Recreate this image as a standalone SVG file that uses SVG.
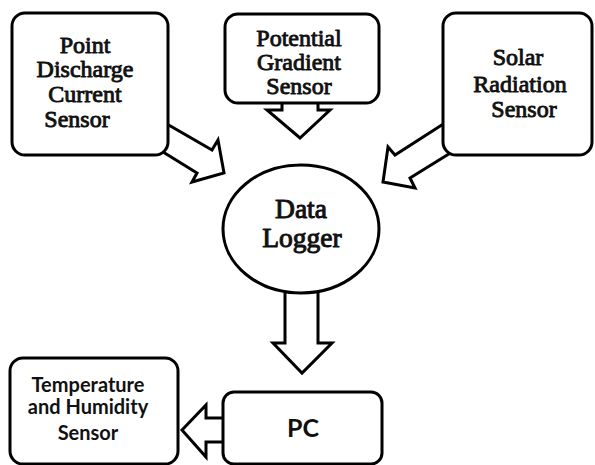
<svg xmlns="http://www.w3.org/2000/svg" width="595" height="465" viewBox="0 0 595 465">
<style>
.box{fill:#fff;stroke:#000;stroke-width:3}
.arr{fill:#fff;stroke:#000;stroke-width:3;stroke-linejoin:miter}
.tr{font-family:'Liberation Serif','Times New Roman',serif;font-size:24px;fill:#111;stroke:#111;stroke-width:0.9;stroke-linejoin:round;text-anchor:middle}
.big{font-size:27.5px;stroke-width:1}
.sans{font-family:Lato,'Liberation Sans',sans-serif;font-weight:bold;font-size:20px;fill:#111;text-anchor:middle}
</style>
<rect width="595" height="465" fill="#fff"/>
<g id="connectors">
<polygon class="arr" points="160,120 212,150 218,140 224,173 192,182 197,173 155,147"/>
<polygon class="arr" points="282,98 282,110 267,110 300,138 330,110 318,110 318,98"/>
<polygon class="arr" points="448,121 395,155 388,147 383,182 415,188 410,178 452,152"/>
<polygon class="arr" points="285,285 285,343 273,343 302,373 332,343 318,343 318,285"/>
<polygon class="arr" points="228,418 206,418 206,405 182,430 206,457 206,442 228,442"/>
</g>
<g id="point-discharge">
<rect class="box" x="12" y="13" width="156" height="142" rx="13"/>
<g class="tr">
<text x="85" y="53">Point</text>
<text x="85" y="77">Discharge</text>
<text x="85" y="102">Current</text>
<text x="77" y="127">Sensor</text>
</g>
</g>
<g id="potential-gradient">
<rect class="box" x="225" y="14" width="154" height="89" rx="13"/>
<g class="tr">
<text x="299" y="46">Potential</text>
<text x="299" y="70">Gradient</text>
<text x="299" y="94">Sensor</text>
</g>
</g>
<g id="solar-radiation">
<rect class="box" x="443" y="13" width="149" height="142" rx="13"/>
<g class="tr">
<text x="518" y="65">Solar</text>
<text x="520" y="92">Radiation</text>
<text x="524" y="117">Sensor</text>
</g>
</g>
<g id="data-logger">
<ellipse class="box" cx="301" cy="229" rx="78" ry="64"/>
<g class="tr big">
<text x="301" y="218">Data</text>
<text x="302" y="247">Logger</text>
</g>
</g>
<g id="pc">
<rect class="box" x="223" y="392" width="159" height="72" rx="11"/>
<text class="sans" x="303" y="437" style="font-size:25px">PC</text>
</g>
<g id="temp-humidity">
<rect class="box" x="10" y="358" width="168" height="106" rx="13"/>
<text class="sans" x="88" y="392">Temperature</text>
<text class="sans" x="88" y="414">and Humidity</text>
<text class="sans" x="88" y="440">Sensor</text>
</g>
</svg>
